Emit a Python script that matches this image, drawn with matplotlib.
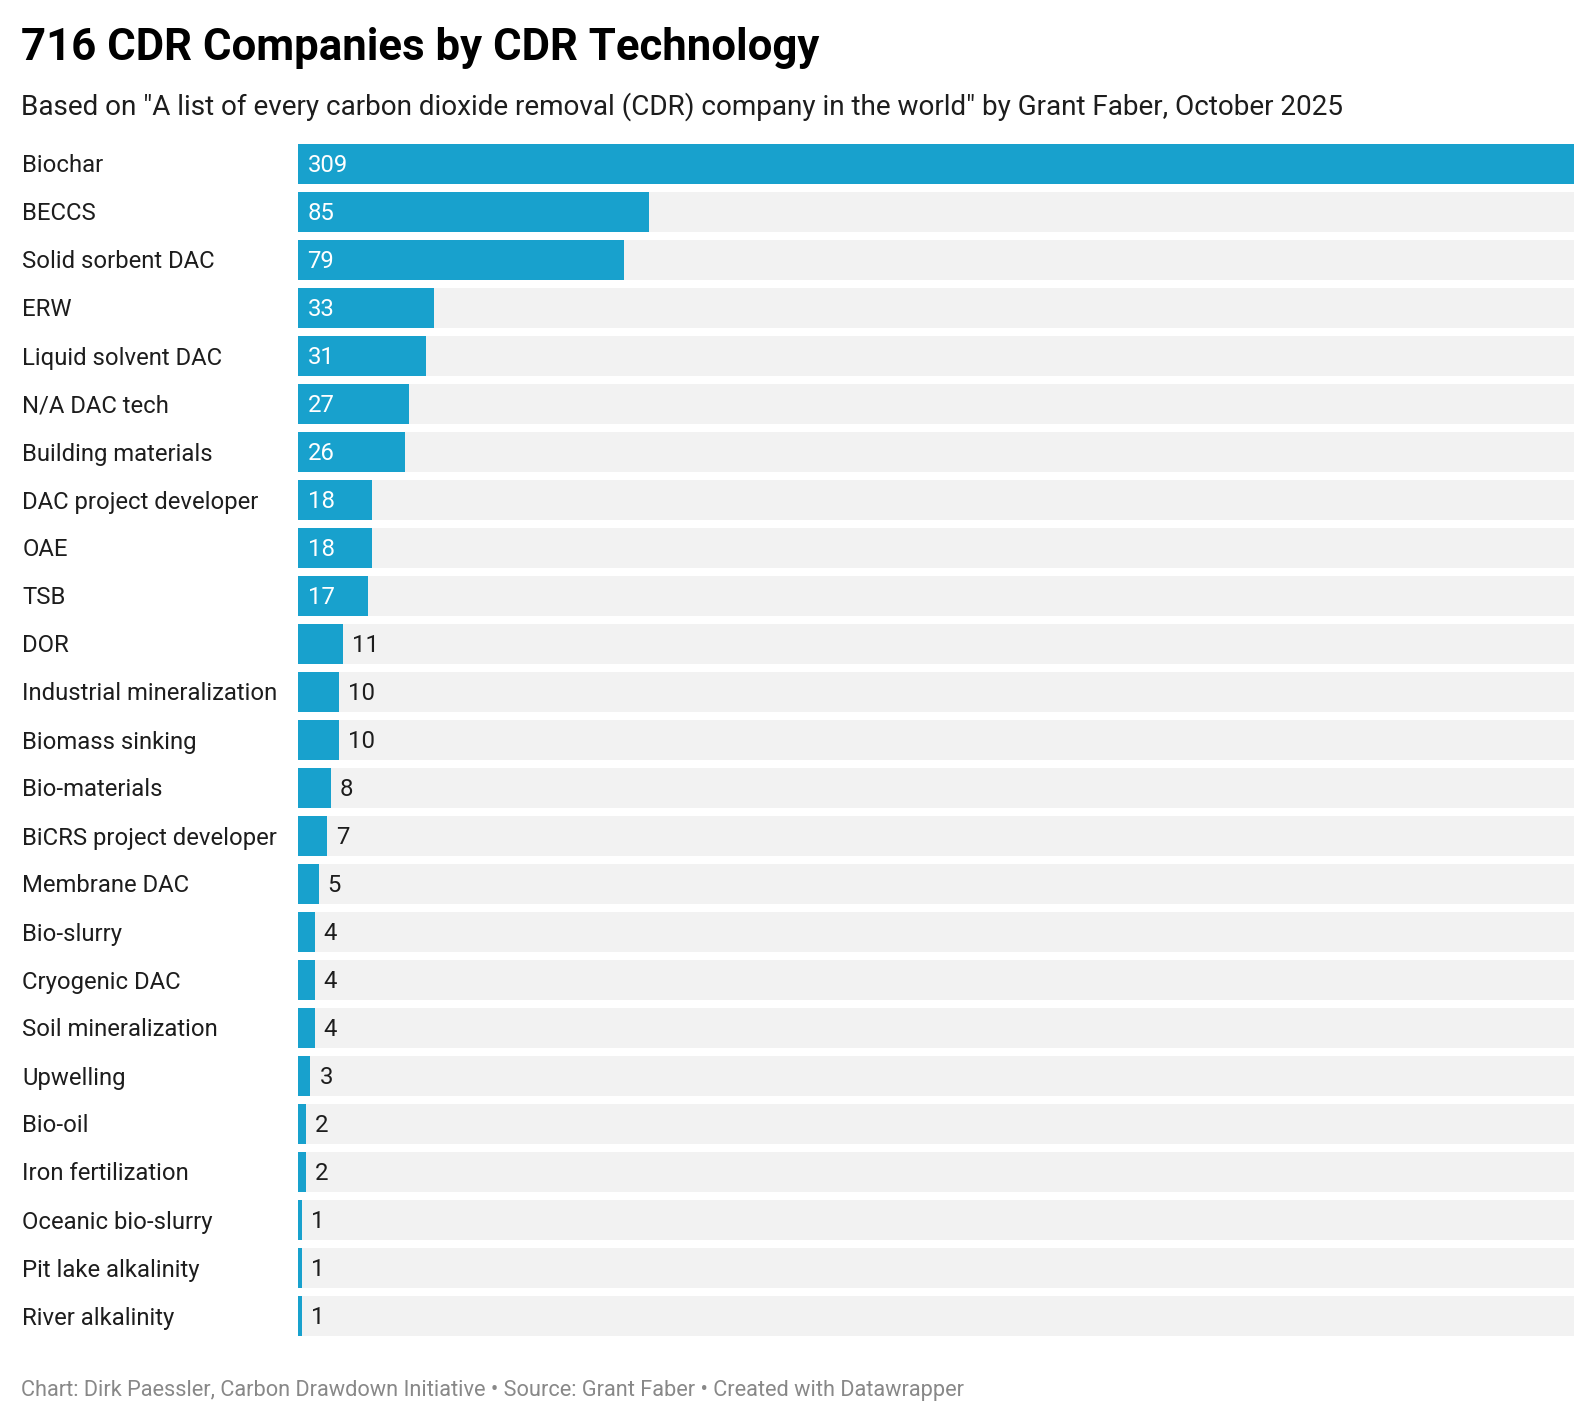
import matplotlib
matplotlib.use("Agg")
import matplotlib.pyplot as plt
from matplotlib.transforms import blended_transform_factory, offset_copy

categories = ["Biochar", "BECCS", "Solid sorbent DAC", "ERW", "Liquid solvent DAC",
              "N/A DAC tech", "Building materials", "DAC project developer", "OAE", "TSB",
              "DOR", "Industrial mineralization", "Biomass sinking", "Bio-materials",
              "BiCRS project developer", "Membrane DAC", "Bio-slurry", "Cryogenic DAC",
              "Soil mineralization", "Upwelling", "Bio-oil", "Iron fertilization",
              "Oceanic bio-slurry", "Pit lake alkalinity", "River alkalinity"]
values = [309, 85, 79, 33, 31, 27, 26, 18, 18, 17, 11, 10, 10, 8, 7, 5, 4, 4, 4, 3, 2, 2, 1, 1, 1]

title = "716 CDR Companies by CDR Technology"
subtitle = 'Based on "A list of every carbon dioxide removal (CDR) company in the world" by Grant Faber, October 2025'
footer = "Chart: Dirk Paessler, Carbon Drawdown Initiative \u2022 Source: Grant Faber \u2022 Created with Datawrapper"

plt.rcParams['font.family'] = ['Roboto', 'DejaVu Sans']

W, H = 1596, 1422
fig = plt.figure(figsize=(W / 100, H / 100), dpi=100)
fig.patch.set_facecolor("white")

ax = fig.add_axes([298 / W, 1 - 1336 / H, 1276 / W, 1192 / H])
ax.set_axis_off()
n = len(categories)
bh = 40 / 48
vmax = max(values)
ax.set_xlim(0, vmax)
ax.set_ylim(n - 1 + bh / 2, -bh / 2)

ys = list(range(n))
ax.barh(ys, [vmax] * n, height=bh, color="#f2f2f2", left=0, zorder=1)
ax.barh(ys, values, height=bh, color="#18a1cd", zorder=2)

text_color = "#1d1d1d"
fs = 17.2
boff = 8.5 / 48
lab_tr = blended_transform_factory(fig.transFigure, ax.transData)
for y, cat, v in zip(ys, categories, values):
    ax.text(22.5 / W, y + boff, cat, transform=lab_tr, ha="left", va="baseline",
            fontsize=fs, color=text_color)
    if v >= 15:
        tr = offset_copy(ax.transData, fig=fig, x=9.5 * 0.72, y=0, units="points")
        ax.text(0, y + boff, str(v), transform=tr, ha="left", va="baseline",
                fontsize=fs, color="white", zorder=3)
    else:
        tr = offset_copy(ax.transData, fig=fig, x=9 * 0.72, y=0, units="points")
        ax.text(v, y + boff, str(v), transform=tr, ha="left", va="baseline",
                fontsize=fs, color=text_color, zorder=3)

fig.text(21 / W, 1 - 60 / H, title, ha="left", va="baseline", fontsize=31.5,
         fontweight="bold", color="#000000")
fig.text(21 / W, 1 - 115 / H, subtitle, ha="left", va="baseline", fontsize=20.1,
         color=text_color)
fig.text(21 / W, 1 - 1396 / H, footer, ha="left", va="baseline", fontsize=15.7,
         color="#888888")

fig.savefig("out.png", dpi=100, facecolor="white")
